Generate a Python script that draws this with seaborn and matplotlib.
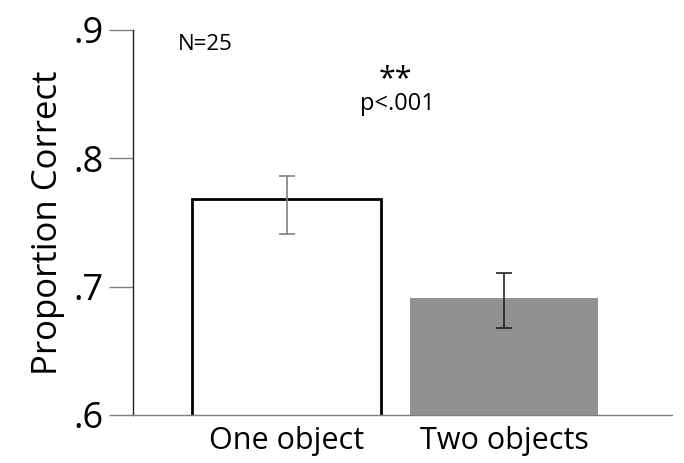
import matplotlib
matplotlib.use("Agg")
import matplotlib.pyplot as plt
import seaborn as sns
import pandas as pd
import numpy as np

categories = ["One object", "Two objects"]
means = [0.768, 0.691]
err_low = [0.741, 0.668]
err_high = [0.786, 0.711]
bar_colors = ["#ffffff", "#919191"]
err_colors = ["#808080", "#222222"]
y_ticks = [0.6, 0.7, 0.8, 0.9]
y_tick_labels = [".6", ".7", ".8", ".9"]

sns.set_style("white")
plt.rcParams["font.family"] = ["Open Sans", "DejaVu Sans"]
plt.rcParams["text.color"] = "black"
plt.rcParams["xtick.color"] = "black"
plt.rcParams["ytick.color"] = "black"
plt.rcParams["axes.labelcolor"] = "black"

df = pd.DataFrame({"cond": categories, "val": means})

fig = plt.figure(figsize=(6.84, 4.63), dpi=100)
ax = fig.add_axes([133/684, 1-415/463, (672-133)/684, (415-30)/463])

sns.barplot(data=df, x="cond", y="val", hue="cond", palette=bar_colors,
            errorbar=None, width=0.865, legend=False, ax=ax, saturation=1)

for i, p in enumerate(ax.patches):
    if i == 0:
        p.set_edgecolor("black")
        p.set_linewidth(2)
    else:
        p.set_edgecolor("none")
        p.set_linewidth(0)

for i in range(len(categories)):
    ax.errorbar([i], [means[i]],
                yerr=[[means[i]-err_low[i]], [err_high[i]-means[i]]],
                fmt="none", ecolor=err_colors[i], elinewidth=1.2,
                capsize=6, capthick=1.2, zorder=5)

ax.set_ylim(0.6, 0.9)
ax.set_xlim(-0.706, 1.772)
ax.set_yticks(y_ticks)
ax.set_yticklabels(y_tick_labels, fontsize=26)
ax.tick_params(axis="y", direction="out", length=17, width=1, color="#808080",
               labelcolor="black", pad=4, left=True)
ax.tick_params(axis="x", length=0, labelsize=22, labelcolor="black", pad=8)
ax.set_xlabel("")
ax.set_ylabel("Proportion Correct", fontsize=25, labelpad=6, color="black")

for s in ["top", "right"]:
    ax.spines[s].set_visible(False)
ax.spines["left"].set_color("#222222")
ax.spines["left"].set_linewidth(1)
ax.spines["bottom"].set_color("#808080")
ax.spines["bottom"].set_linewidth(1)

ax.text(-0.5, 0.889, "N=25", fontsize=16, ha="left", va="center")
ax.text(0.5, 0.862, "**", fontsize=22, ha="center", va="center")
ax.text(0.51, 0.842, "p<.001", fontsize=17, ha="center", va="center")

fig.savefig("out.png", dpi=100)
